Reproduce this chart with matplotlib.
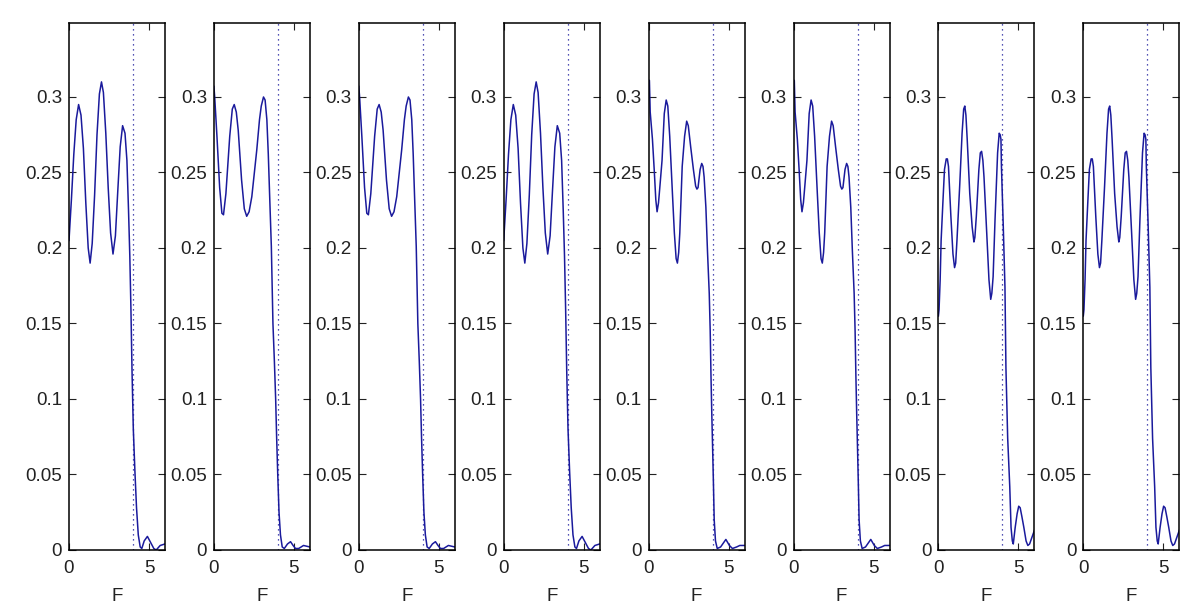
import matplotlib
matplotlib.use("Agg")
import matplotlib.pyplot as plt

plt.rcParams['font.family'] = ['Liberation Sans', 'DejaVu Sans']
plt.rcParams['font.size'] = 13

# shape A: panels 1 and 4
f_a = [0.00, 0.15, 0.30, 0.45, 0.60, 0.75, 0.90, 1.05, 1.20, 1.32, 1.45, 1.60, 1.75, 1.90,
       2.03, 2.15, 2.30, 2.45, 2.60, 2.75, 2.90, 3.05, 3.20, 3.35, 3.50, 3.62, 3.72, 3.80,
       3.87, 3.94, 4.02, 4.12, 4.22, 4.33, 4.45, 4.55, 4.70, 4.90, 5.10, 5.30, 5.45, 5.70, 6.00]
amp_a = [0.205, 0.232, 0.262, 0.285, 0.295, 0.288, 0.266, 0.230, 0.200, 0.190, 0.203, 0.235,
         0.275, 0.302, 0.310, 0.303, 0.276, 0.240, 0.210, 0.196, 0.208, 0.238, 0.267, 0.281,
         0.276, 0.258, 0.225, 0.195, 0.160, 0.118, 0.080, 0.052, 0.028, 0.010, 0.002, 0.001,
         0.006, 0.009, 0.005, 0.001, 0.000, 0.003, 0.004]

# shape B: panels 2 and 3
f_b = [0.00, 0.05, 0.19, 0.36, 0.50, 0.60, 0.75, 0.99, 1.15, 1.27, 1.40, 1.52, 1.73, 1.90,
       2.05, 2.20, 2.37, 2.55, 2.68, 2.85, 2.96, 3.10, 3.20, 3.31, 3.40, 3.48, 3.59, 3.69,
       3.78, 3.86, 3.92, 3.99, 4.07, 4.16, 4.27, 4.40, 4.60, 4.79, 4.95, 5.10, 5.30, 5.60, 6.00]
amp_b = [0.307, 0.300, 0.274, 0.240, 0.223, 0.222, 0.236, 0.274, 0.292, 0.295, 0.290, 0.278,
         0.245, 0.226, 0.221, 0.224, 0.234, 0.252, 0.265, 0.285, 0.294, 0.300, 0.298, 0.285,
         0.262, 0.236, 0.201, 0.150, 0.125, 0.100, 0.075, 0.050, 0.025, 0.010, 0.002, 0.001,
         0.004, 0.0055, 0.003, 0.001, 0.001, 0.003, 0.002]

# shape C: panels 5 and 6
f_c = [0.00, 0.05, 0.10, 0.24, 0.35, 0.45, 0.53, 0.62, 0.70, 0.84, 0.98, 1.10, 1.20, 1.32,
       1.49, 1.61, 1.72, 1.80, 1.88, 1.95, 2.10, 2.25, 2.38, 2.48, 2.63, 2.80, 2.94, 3.02,
       3.09, 3.22, 3.32, 3.40, 3.47, 3.58, 3.68, 3.79, 3.85, 3.90, 3.95, 4.00, 4.05, 4.10,
       4.18, 4.29, 4.50, 4.83, 5.05, 5.24, 5.50, 5.70, 6.00]
amp_c = [0.311, 0.311, 0.290, 0.272, 0.252, 0.232, 0.224, 0.230, 0.240, 0.258, 0.289, 0.298,
         0.294, 0.274, 0.236, 0.210, 0.193, 0.190, 0.197, 0.210, 0.254, 0.274, 0.284, 0.281,
         0.267, 0.252, 0.241, 0.239, 0.240, 0.252, 0.256, 0.254, 0.247, 0.227, 0.198, 0.170,
         0.145, 0.115, 0.090, 0.068, 0.045, 0.020, 0.006, 0.001, 0.002, 0.007, 0.003, 0.001,
         0.002, 0.003, 0.003]

# shape D: panels 7 and 8
f_d = [0.00, 0.04, 0.11, 0.17, 0.28, 0.38, 0.49, 0.56, 0.63, 0.78, 0.91, 1.01, 1.08, 1.16,
       1.33, 1.48, 1.58, 1.65, 1.72, 1.80, 1.96, 2.11, 2.22, 2.28, 2.37, 2.53, 2.62, 2.70,
       2.78, 2.85, 3.02, 3.16, 3.27, 3.34, 3.42, 3.54, 3.70, 3.80, 3.86, 3.91, 3.94, 4.05,
       4.16, 4.22, 4.33, 4.46, 4.54, 4.62, 4.68, 4.80, 4.92, 5.02, 5.11, 5.22, 5.34, 5.48,
       5.59, 5.70, 5.80, 6.00]
amp_d = [0.155, 0.159, 0.179, 0.205, 0.230, 0.252, 0.259, 0.259, 0.254, 0.221, 0.196, 0.187,
         0.190, 0.205, 0.241, 0.276, 0.292, 0.294, 0.288, 0.272, 0.236, 0.214, 0.204, 0.207,
         0.221, 0.252, 0.263, 0.264, 0.258, 0.247, 0.210, 0.179, 0.166, 0.170, 0.181, 0.219,
         0.263, 0.276, 0.275, 0.272, 0.254, 0.216, 0.174, 0.121, 0.074, 0.042, 0.015, 0.006,
         0.004, 0.015, 0.024, 0.029, 0.028, 0.022, 0.015, 0.006, 0.003, 0.004, 0.007, 0.013]

shapes = {'a': (f_a, amp_a), 'b': (f_b, amp_b), 'c': (f_c, amp_c), 'd': (f_d, amp_d)}
panel_order = ['a', 'b', 'b', 'a', 'c', 'c', 'd', 'd']
cutoff = 4.0
yticks = [0, 0.05, 0.1, 0.15, 0.2, 0.25, 0.3]
xticks = [0, 5]

fig = plt.figure(figsize=(12, 6.15), dpi=100)
W, H = 1200.0, 615.0
line_col = '#1a1a9c'

for i, key in enumerate(panel_order):
    f, amp = shapes[key]
    left = 69 + i * 144.9
    ax = fig.add_axes([left / W, 1 - 550 / H, 96 / W, 527 / H])
    ax.plot(f, amp, color=line_col, lw=1.1)
    ax.axvline(cutoff, color=line_col, lw=0.9, linestyle=(0, (1, 3)))
    ax.set_xlim(0, 6)
    ax.set_ylim(0, 0.349)
    ax.set_xticks(xticks)
    ax.set_xticklabels(['%g' % t for t in xticks])
    ax.set_yticks(yticks)
    ax.set_yticklabels(['%g' % t for t in yticks])
    ax.tick_params(direction='in', length=5, width=0.8, top=True, right=True,
                   labelsize=13.5, colors='#222222', labelcolor='#222222')
    ax.tick_params(axis='y', pad=5)
    ax.tick_params(axis='x', pad=7)
    for s in ax.spines.values():
        s.set_linewidth(1.1)
        s.set_color('black')
    ax.set_xlabel('F', fontsize=13.5, labelpad=8, color='#222222')

fig.savefig('out.png', dpi=100)
